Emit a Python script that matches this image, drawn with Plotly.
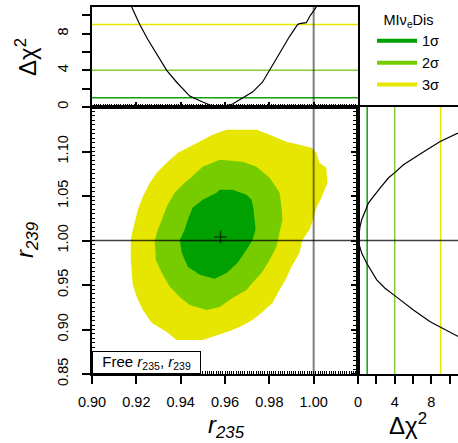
import plotly.graph_objects as go

# ---- confidence regions in the (r235, r239) plane ----
r235_3s = [0.9607, 0.9742, 0.9801, 0.9877, 0.9936, 0.9990, 1.0012, 1.0026, 1.0057, 1.0062,
           1.0035, 1.0012, 0.9994, 0.9981, 0.9949, 0.9936, 0.9900, 0.9877, 0.9846, 0.9814,
           0.9769, 0.9724, 0.9666, 0.9621, 0.9499, 0.9382, 0.9337, 0.9270, 0.9229, 0.9202,
           0.9184, 0.9175, 0.9175, 0.9184, 0.9207, 0.9229, 0.9261, 0.9292, 0.9337, 0.9387,
           0.9441, 0.9499, 0.9544]
r239_3s = [1.1245, 1.1245, 1.1189, 1.1110, 1.1076, 1.1042, 1.0986, 1.0874, 1.0817, 1.0649,
           1.0480, 1.0367, 1.0210, 1.0120, 1.0007, 0.9861, 0.9704, 0.9580, 0.9445, 0.9299,
           0.9197, 0.9107, 0.9029, 0.8984, 0.8882, 0.8882, 0.8972, 0.9074, 0.9220, 0.9366,
           0.9501, 0.9782, 1.0007, 1.0120, 1.0345, 1.0491, 1.0649, 1.0761, 1.0874, 1.0986,
           1.1054, 1.1132, 1.1189]

r235_2s = [0.9576, 0.9679, 0.9742, 0.9801, 0.9823, 0.9846, 0.9855, 0.9859, 0.9846, 0.9832,
           0.9801, 0.9765, 0.9724, 0.9697, 0.9634, 0.9576, 0.9517, 0.9441, 0.9396, 0.9351,
           0.9315, 0.9288, 0.9283, 0.9297, 0.9315, 0.9337, 0.9373, 0.9418, 0.9450, 0.9499]
r239_2s = [1.0907, 1.0885, 1.0829, 1.0705, 1.0626, 1.0536, 1.0379, 1.0232, 1.0086, 0.9929,
           0.9782, 0.9636, 0.9524, 0.9445, 0.9355, 0.9254, 0.9220, 0.9276, 0.9366, 0.9479,
           0.9636, 0.9782, 1.0007, 1.0120, 1.0232, 1.0379, 1.0536, 1.0649, 1.0716, 1.0829]

r235_1s = [0.9576, 0.9634, 0.9697, 0.9720, 0.9729, 0.9733, 0.9738, 0.9724, 0.9697, 0.9657,
           0.9607, 0.9553, 0.9486, 0.9432, 0.9405, 0.9396, 0.9418, 0.9432, 0.9454, 0.9499,
           0.9562]
r239_1s = [1.0570, 1.0570, 1.0514, 1.0457, 1.0345, 1.0232, 1.0120, 1.0007, 0.9895, 0.9749,
           0.9636, 0.9569, 0.9614, 0.9704, 0.9861, 1.0007, 1.0120, 1.0232, 1.0367, 1.0457,
           1.0536]

best_r235 = [0.958]
best_r239 = [1.004]

# ---- marginal profiles ----
prof235_x = [0.9175, 0.9216, 0.9252, 0.9292, 0.9337, 0.9382, 0.9441, 0.9499, 0.9544, 0.9589,
             0.9634, 0.9679, 0.9724, 0.9769, 0.9801, 0.9846, 0.9891, 0.9927, 0.9936, 0.9967,
             0.9981, 1.0003, 1.0017]
prof235_chi2 = [11.1, 8.97, 7.35, 5.73, 4.0, 2.70, 1.19, 0.54, 0.11, 0.0,
                0.32, 0.97, 1.62, 2.70, 4.0, 5.73, 7.68, 8.97, 9.08, 9.19,
                9.84, 10.59, 11.1]

prof239_chi2 = [10.9, 8.96, 7.51, 6.04, 4.95, 4.04, 3.31, 2.40, 1.67, 1.13, 0.77, 0.40,
                0.22, 0.11, 0.03, 0.40, 0.95, 2.04, 2.95, 4.04, 6.04, 7.87, 8.96, 10.96]
prof239_y = [1.1208, 1.1113, 1.1020, 1.0927, 1.0851, 1.0765, 1.0702, 1.0589, 1.0495, 1.0420,
             1.0326, 1.0233, 1.0157, 1.0083, 0.9988, 0.9858, 0.9745, 0.9558, 0.9464, 0.9378,
             0.9220, 0.9088, 0.9032, 0.8920]

# ---- confidence levels ----
sigma_names = ["1σ", "2σ", "3σ"]
chi2_levels = [1, 4, 9]
fill_colors = ["#00a000", "#77cc00", "#e6e600"]
level_line_colors = ["#10a010", "#88cc33", "#e6e600"]

# reference values
ref_r235 = 1.00
ref_r239 = 1.00

FONT = "Liberation Sans, Arial, sans-serif"

fig = go.Figure()

# filled regions, outermost first
for xs, ys, col in [(r235_3s, r239_3s, fill_colors[2]),
                    (r235_2s, r239_2s, fill_colors[1]),
                    (r235_1s, r239_1s, fill_colors[0])]:
    fig.add_trace(go.Scatter(x=xs, y=ys, mode="lines", fill="toself", fillcolor=col,
                             line=dict(width=0, color=col), hoverinfo="skip",
                             showlegend=False, xaxis="x", yaxis="y"))

fig.add_trace(go.Scatter(x=best_r235, y=best_r239, mode="markers",
                         marker=dict(symbol="cross-thin", size=9,
                                     line=dict(width=1.5, color="rgba(0,0,0,0.6)")),
                         showlegend=False, xaxis="x", yaxis="y"))

# profile curves
fig.add_trace(go.Scatter(x=prof235_x, y=prof235_chi2, mode="lines",
                         line=dict(color="black", width=1.2), showlegend=False,
                         xaxis="x2", yaxis="y2"))
fig.add_trace(go.Scatter(x=prof239_chi2, y=prof239_y, mode="lines",
                         line=dict(color="black", width=1.2), showlegend=False,
                         xaxis="x3", yaxis="y3"))

# legend entries
for name, col in zip(sigma_names, fill_colors):
    fig.add_trace(go.Scatter(x=[None], y=[None], mode="lines", name=name,
                             line=dict(color=col, width=4), xaxis="x", yaxis="y"))

shapes = []
for lvl, col in zip(chi2_levels, level_line_colors):
    shapes.append(dict(type="line", xref="x2 domain", x0=0, x1=1, yref="y2", y0=lvl, y1=lvl,
                       line=dict(color=col, width=1.5), layer="below"))
    shapes.append(dict(type="line", yref="y3 domain", y0=0, y1=1, xref="x3", x0=lvl, x1=lvl,
                       line=dict(color=col, width=1.5), layer="below"))
# reference lines
for yr in ["y domain", "y2 domain"]:
    xr = "x" if yr == "y domain" else "x2"
    shapes.append(dict(type="line", xref=xr, x0=ref_r235, x1=ref_r235, yref=yr, y0=0, y1=1,
                       line=dict(color="rgba(0,0,0,0.5)", width=2)))
for xr in ["x domain", "x3 domain"]:
    yr = "y" if xr == "x domain" else "y3"
    shapes.append(dict(type="line", yref=yr, y0=ref_r239, y1=ref_r239, xref=xr, x0=0, x1=1,
                       line=dict(color="rgba(0,0,0,0.75)", width=1.5)))

W, H = 458, 443
xd_main = [92 / W, 358 / W]
xd_right = [358 / W, 1.0]
yd_main = [1 - 374 / H, 1 - 107 / H]
yd_top = [1 - 107 / H, 1 - 7 / H]

axis_common = dict(showline=True, linecolor="black", linewidth=2, showgrid=False,
                   zeroline=False, tickcolor="black", tickwidth=1.5, automargin=False,
                   tickfont=dict(family=FONT, size=14.5, color="black"))


def title_note(text, px, py, angle=0):
    return dict(text=text, xref="paper", yref="paper", x=px / W, y=1 - py / H,
                xanchor="center", yanchor="middle", textangle=angle, showarrow=False,
                font=dict(family=FONT, size=24, color="black"))


fig.update_layout(
    width=W, height=H, margin=dict(l=0, r=0, t=0, b=0, autoexpand=False),
    paper_bgcolor="white", plot_bgcolor="white",
    font=dict(family=FONT, color="black"),
    shapes=shapes,
    xaxis=dict(**axis_common, domain=xd_main, anchor="y", range=[0.90, 1.02],
               tickvals=[0.90, 0.92, 0.94, 0.96, 0.98, 1.00], tickformat=".2f",
               ticks="outside", ticklen=8, mirror=True, ticklabelstandoff=6,
               minor=dict(tickmode="linear", tick0=0.9, dtick=0.001, ticks="inside",
                          ticklen=3, tickcolor="black", tickwidth=1)),
    yaxis=dict(**axis_common, domain=yd_main, anchor="x", range=[0.85, 1.15],
               tickvals=[0.85, 0.90, 0.95, 1.00, 1.05, 1.10], tickformat=".2f",
               ticks="outside", ticklen=8, mirror=True, tickangle=-90, ticklabelstandoff=8,
               minor=dict(tickmode="linear", tick0=0.85, dtick=0.005, ticks="inside",
                          ticklen=3, tickcolor="black", tickwidth=1)),
    xaxis2=dict(**axis_common, domain=xd_main, anchor="y2", range=[0.90, 1.02],
                matches="x", showticklabels=False, mirror=True,
                tickvals=[0.90, 0.92, 0.94, 0.96, 0.98, 1.00], ticks="inside", ticklen=5,
                minor=dict(tickmode="linear", tick0=0.9, dtick=0.001, ticks="inside",
                           ticklen=3, tickcolor="black", tickwidth=1)),
    yaxis2=dict(**axis_common, domain=yd_top, anchor="x2", range=[0, 10.9],
                tickvals=[0, 4, 8], ticks="outside", ticklen=8, mirror=True,
                tickangle=-90, ticklabelstandoff=8,
                minor=dict(tickmode="linear", tick0=0, dtick=2, ticks="outside",
                           ticklen=8, tickcolor="black", tickwidth=1.5)),
    xaxis3=dict(**axis_common, domain=xd_right, anchor="y3", range=[0, 10.9],
                tickvals=[0, 4, 8], ticks="outside", ticklen=8, mirror=True,
                ticklabelstandoff=6,
                minor=dict(tickmode="linear", tick0=0, dtick=2, ticks="outside",
                           ticklen=8, tickcolor="black", tickwidth=1.5)),
    yaxis3=dict(**axis_common, domain=yd_main, anchor="x3", range=[0.85, 1.15],
                matches="y", showticklabels=False, ticks="outside", ticklen=5,
                tickvals=[0.85, 0.90, 0.95, 1.00, 1.05, 1.10],
                minor=dict(tickmode="linear", tick0=0.85, dtick=0.005, ticks="outside",
                           ticklen=3, tickcolor="black", tickwidth=1)),
    legend=dict(x=372 / W, y=1 - 6 / H, xanchor="left", yanchor="top",
                bgcolor="rgba(0,0,0,0)", borderwidth=0,
                font=dict(family=FONT, size=14.5, color="black"),
                title=dict(text="MIν<sub>e</sub>Dis", side="top center",
                           font=dict(family=FONT, size=14.5)),
                itemwidth=40),
    annotations=[
        title_note("<i>r<sub>235</sub></i>", 226, 426),
        title_note("<i>r<sub>239</sub></i>", 26, 240, -90),
        title_note("Δχ<sup>2</sup>", 26, 57, -90),
        title_note("Δχ<sup>2</sup>", 408, 424),
        dict(text="\u00a0\u00a0Free <i>r</i><sub>235</sub>, <i>r</i><sub>239</sub>\u00a0\u00a0",
             xref="x", yref="y", x=0.90, y=0.85, xanchor="left", yanchor="bottom",
             showarrow=False, bgcolor="white", bordercolor="black", borderwidth=1,
             borderpad=1, font=dict(family=FONT, size=15, color="black")),
    ],
)

fig.write_html("out.html")
